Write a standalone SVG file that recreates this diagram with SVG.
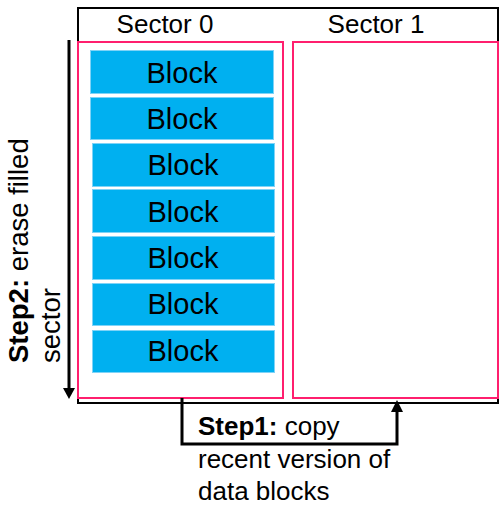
<svg xmlns="http://www.w3.org/2000/svg" width="504" height="509" viewBox="0 0 504 509">
<style>
text{font-family:"Liberation Sans",Arial,sans-serif;fill:#000}
.hdr{font-size:26px;text-anchor:middle}
.blk{fill:#00B0F0;stroke:#7FD3F7;stroke-width:1}
.bt{font-size:29px;text-anchor:middle}
.sec{fill:none;stroke:#FF1F6E;stroke-width:2}
.lbl{font-size:26px}
.lbl2{font-size:27.5px}
.b{font-weight:bold}
.ln{fill:none;stroke:#000;stroke-width:3}
</style>
<rect id="outer" x="78" y="8" width="420" height="395" fill="#fff" stroke="#000" stroke-width="2"/>
<g id="sector0">
<text class="hdr" x="165" y="33">Sector 0</text>
<rect class="sec" x="78" y="42" width="205" height="356"/>
</g>
<g id="sector1">
<text class="hdr" x="376" y="33">Sector 1</text>
<rect class="sec" x="293" y="42" width="205" height="356"/>
</g>
<g id="block1"><rect class="blk" x="90.5" y="50.5" width="183" height="43"/><text class="bt" x="182" y="83">Block</text></g>
<g id="block2"><rect class="blk" x="90.5" y="97.5" width="183" height="42"/><text class="bt" x="182" y="129">Block</text></g>
<g id="block3"><rect class="blk" x="92.5" y="143.5" width="182" height="43"/><text class="bt" x="183" y="175">Block</text></g>
<g id="block4"><rect class="blk" x="92.5" y="189.5" width="182" height="43"/><text class="bt" x="183" y="222">Block</text></g>
<g id="block5"><rect class="blk" x="92.5" y="236.5" width="182" height="43"/><text class="bt" x="183" y="268">Block</text></g>
<g id="block6"><rect class="blk" x="92.5" y="283.5" width="182" height="42"/><text class="bt" x="183" y="314">Block</text></g>
<g id="block7"><rect class="blk" x="92.5" y="330.5" width="182" height="42"/><text class="bt" x="183" y="361">Block</text></g>
<g id="connectors">
<polyline class="ln" points="182,398 182,444 397,444 397,412"/>
<path d="M391,412 L397,400 L403,412 z" fill="#000"/>
<line class="ln" x1="69" y1="40" x2="69" y2="388"/>
<path d="M63,388 L69,399 L75,388 z" fill="#000"/>
</g>
<g id="step1-label">
<text class="lbl" x="198" y="435"><tspan class="b">Step1:</tspan> copy</text>
<text class="lbl" x="198" y="468">recent version of</text>
<text class="lbl" x="198" y="500">data blocks</text>
</g>
<g id="step2-label">
<text class="lbl2" transform="translate(28,363) rotate(-90)"><tspan class="b">Step2:</tspan> erase filled</text>
<text class="lbl2" transform="translate(60,363) rotate(-90)">sector</text>
</g>
</svg>
